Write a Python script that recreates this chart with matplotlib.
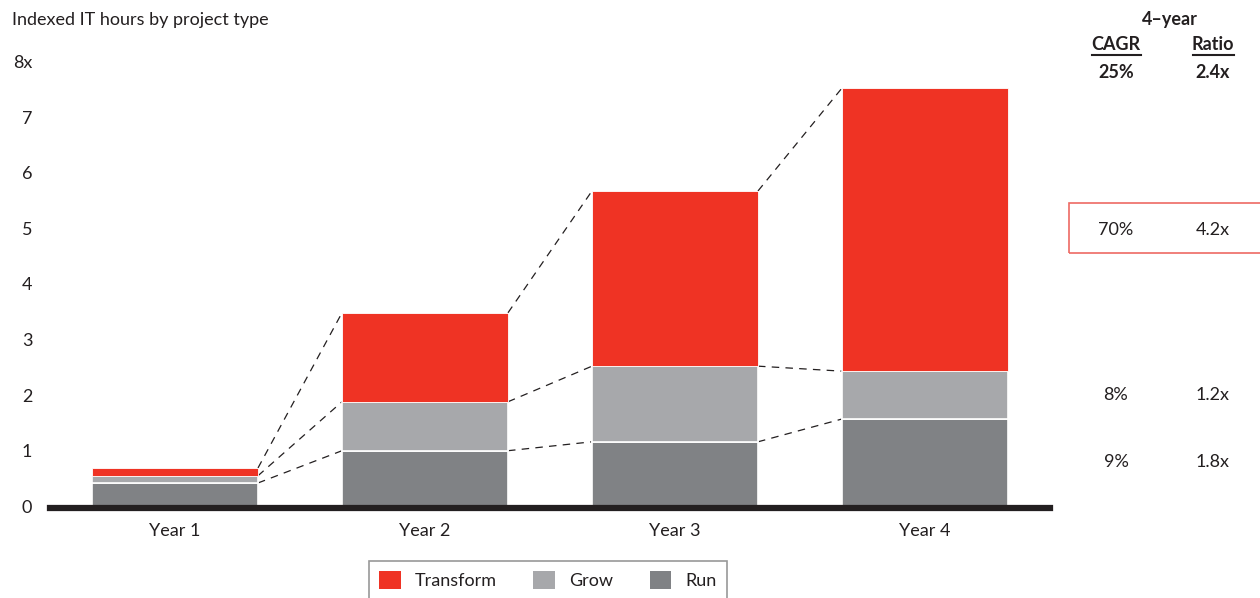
import matplotlib.pyplot as plt
import matplotlib.transforms as mtransforms
from matplotlib.patches import Patch, Rectangle

plt.rcParams['font.family'] = ['Lato', 'DejaVu Sans']

# data
years = ["Year 1", "Year 2", "Year 3", "Year 4"]
run = [0.45, 1.03, 1.19, 1.60]
grow = [0.13, 0.88, 1.36, 0.86]
transform = [0.14, 1.60, 3.15, 5.09]

ytick_vals = [0, 1, 2, 3, 4, 5, 6, 7, 8]
ytick_text = ["0", "1", "2", "3", "4", "5", "6", "7", "8x"]

# right-hand table: rows (label y in data units, CAGR, ratio)
row_y = [5.0, 2.03, 0.83]
row_cagr = ["70%", "8%", "9%"]
row_ratio = ["4.2x", "1.2x", "1.8x"]
total_cagr = "25%"
total_ratio = "2.4x"

RED = "#EF3324"
LGRAY = "#A7A8AB"
DGRAY = "#808285"
TXT = "#231F20"
FS = 13

fig = plt.figure(figsize=(12.6, 5.98), dpi=100)
ax = fig.add_axes([50 / 1260, 90 / 598, 1000 / 1260, 445 / 598])

x = list(range(len(years)))
w = 0.664
base2 = [r + g for r, g in zip(run, grow)]
top = [b + t for b, t in zip(base2, transform)]

ax.bar(x, run, w, color=DGRAY, edgecolor="white", linewidth=1.2, zorder=3)
ax.bar(x, grow, w, bottom=run, color=LGRAY, edgecolor="white", linewidth=1.2, zorder=3)
ax.bar(x, transform, w, bottom=base2, color=RED, edgecolor="white", linewidth=0.6, zorder=3)

# dashed connectors between the tops of matching segments
for levels in (run, base2, top):
    for i in range(len(years) - 1):
        ax.plot([x[i] + w / 2, x[i + 1] - w / 2], [levels[i], levels[i + 1]],
                color=TXT, linestyle=(0, (6, 5)), linewidth=0.9, zorder=2)

ax.set_xlim(-0.5, 3.5)
ax.set_ylim(0, 8)
for s in ax.spines.values():
    s.set_visible(False)
ax.axhline(0, color=TXT, linewidth=4.5, zorder=4, clip_on=False)
ax.set_yticks([])
ax.set_xticks(x)
ax.set_xticklabels(years, fontsize=FS, color=TXT)
ax.tick_params(axis="x", length=0, pad=11)

# y tick labels
tr = mtransforms.blended_transform_factory(fig.transFigure, ax.transData)
for v, t in zip(ytick_vals, ytick_text):
    if t.endswith("x"):
        ax.text(13 / 1260, v, t, transform=tr, ha="left", va="center", fontsize=FS, color=TXT)
    else:
        ax.text(27 / 1260, v, t, transform=tr, ha="center", va="center", fontsize=FS, color=TXT)

fig.text(12 / 1260, 1 - 20 / 598, "Indexed IT hours by project type", ha="left", va="center",
         fontsize=FS, color=TXT)

# table on the right
cx1, cx2 = 1116 / 1260, 1213 / 1260
fig.text(1170 / 1260, 1 - 20 / 598, "4\u2013year", ha="center", va="center", fontsize=FS,
         fontweight="bold", color=TXT)
for cx, t in ((cx1, "CAGR"), (cx2, "Ratio")):
    fig.text(cx, 1 - 45 / 598, t, ha="center", va="center", fontsize=FS, fontweight="bold", color=TXT)
fig.add_artist(plt.Line2D([1092 / 1260, 1141 / 1260], [1 - 55 / 598] * 2, color=TXT, linewidth=1.5))
fig.add_artist(plt.Line2D([1193 / 1260, 1234 / 1260], [1 - 55 / 598] * 2, color=TXT, linewidth=1.5))
fig.text(cx1, 1 - 73 / 598, total_cagr, ha="center", va="center", fontsize=FS, fontweight="bold", color=TXT)
fig.text(cx2, 1 - 73 / 598, total_ratio, ha="center", va="center", fontsize=FS, fontweight="bold", color=TXT)

for yv, c, r in zip(row_y, row_cagr, row_ratio):
    ax.text(cx1, yv, c, transform=tr, ha="center", va="center", fontsize=FS, color=TXT)
    ax.text(cx2, yv, r, transform=tr, ha="center", va="center", fontsize=FS, color=TXT)

fig.add_artist(Rectangle((1069 / 1260, 1 - 253 / 598), 200 / 1260, 50 / 598,
                         transform=fig.transFigure, fill=False, edgecolor="#EE6A63", linewidth=1.2))

handles = [Patch(facecolor=RED, label="Transform"),
           Patch(facecolor=LGRAY, label="Grow"),
           Patch(facecolor=DGRAY, label="Run")]
leg = fig.legend(handles=handles, loc="upper center", bbox_to_anchor=(548 / 1260, 1 - 561 / 598),
                 ncol=3, frameon=True, fancybox=False, fontsize=FS, handlelength=1.2,
                 handleheight=1.2, columnspacing=2.0, borderpad=0.55, handletextpad=0.8,
                 borderaxespad=0)
leg.get_frame().set_edgecolor("#7F7F7F")
leg.get_frame().set_linewidth(1.2)
for t in leg.get_texts():
    t.set_color(TXT)

fig.savefig("out.png", dpi=100)
